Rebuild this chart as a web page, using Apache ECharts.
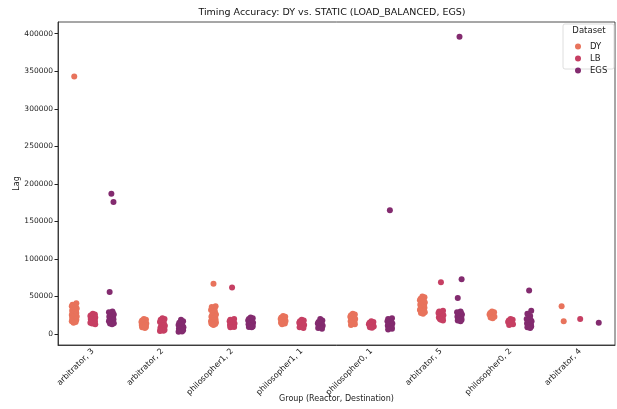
<!DOCTYPE html>
<html>
<head>
<meta charset="utf-8">
<script src="https://cdn.jsdelivr.net/npm/echarts@6/dist/echarts.min.js"></script>
<style>
  html, body { margin: 0; padding: 0; background: #fff; }
  #main { width: 617px; height: 409px; }
</style>
</head>
<body>
<div id="main"></div>
<script>
// categories on the x axis
var categories = ["arbitrator, 3", "arbitrator, 2", "philosopher1, 2", "philosopher1, 1",
  "philosopher0, 1", "arbitrator, 5", "philosopher0, 2", "arbitrator, 4"];
var hues = ["DY", "LB", "EGS"];
var yTicks = [0, 50000, 100000, 150000, 200000, 250000, 300000, 350000, 400000];

// Lag values per category (same order as categories)
var DY = [
  [343000, 41000, 39000, 38500, 37000, 36000, 35000, 34000, 33000, 32000, 31000, 30000, 29000, 28500, 28000, 27000, 26000, 25500, 25000, 24000, 23500, 23000, 22000, 21500, 21000, 20000, 19500, 19000, 18000, 17500, 17000, 16000, 15000],
  [20000, 19000, 18000, 17000, 16000, 15500, 15000, 14000, 13500, 13000, 12000, 11500, 11000, 10000, 9500, 9000, 8000],
  [67000, 37000, 36000, 34000, 32000, 30000, 28000, 26000, 25000, 24000, 23000, 22000, 21000, 20000, 19000, 18500, 18000, 17000, 16500, 16000, 15500, 15000, 14500, 14000, 13500, 13000, 12000],
  [24000, 23000, 22000, 21000, 20000, 19000, 18000, 17500, 17000, 16000, 15000, 14000, 13000],
  [27000, 26000, 25000, 24000, 23000, 22000, 21000, 20000, 19000, 18000, 17000, 16000, 15000, 14000, 13000, 12000],
  [50000, 49000, 47000, 46000, 45000, 44000, 43000, 42000, 41000, 40000, 39000, 38000, 37000, 36000, 35000, 34000, 33000, 32000, 31000, 30000, 29000, 28000, 27000],
  [30000, 29000, 28000, 27000, 26000, 25000, 24000, 23000, 22000, 21000],
  [37000, 17000]
];
var LB = [
  [27000, 26000, 25000, 24500, 24000, 23000, 22500, 22000, 21000, 20500, 20000, 19000, 18500, 18000, 17000, 16500, 16000, 15000, 14500, 14000, 13000],
  [21000, 20000, 19000, 17000, 16000, 14000, 12000, 11000, 10000, 9000, 8000, 7000, 6500, 6000, 5500, 5000, 4500, 4000],
  [62000, 20000, 19000, 18000, 17000, 16000, 15000, 14000, 13500, 13000, 12000, 11500, 11000, 10000, 9500, 9000],
  [19000, 18000, 17000, 16000, 15000, 14000, 13000, 12000, 11000, 10000, 9000, 8000],
  [17000, 16000, 15000, 14000, 13000, 12000, 11000, 10000, 9000, 8500],
  [69000, 31000, 30000, 29000, 28000, 27000, 26000, 25000, 24000, 23000, 22000, 21000, 20000, 19000, 18000],
  [20000, 19000, 18000, 17000, 16000, 15000, 14000, 13000, 12000],
  [20000]
];
var EGS = [
  [187000, 176000, 56000, 30000, 29000, 28000, 27000, 26000, 25000, 24000, 23000, 22000, 21000, 20000, 19500, 19000, 18000, 17000, 16000, 15000, 14500, 14000, 13000],
  [19000, 17000, 15000, 13000, 12000, 11000, 10000, 9000, 8500, 8000, 7000, 6500, 6000, 5500, 5000, 4000, 3500, 3000],
  [22000, 21000, 20000, 19000, 18000, 17000, 16000, 15000, 14500, 14000, 13000, 12000, 11500, 11000, 10000, 9500, 9000],
  [20000, 18000, 16000, 15000, 14000, 13000, 12000, 11000, 10000, 9000, 8000, 7000],
  [165000, 21000, 20000, 18000, 17000, 16000, 15000, 14000, 13000, 12000, 11000, 10000, 9000, 8000, 7000, 6000],
  [396000, 73000, 48000, 30000, 29000, 28000, 27000, 26000, 25000, 24000, 23000, 22000, 21000, 20000, 19000, 18000, 17000],
  [58000, 31000, 27000, 24000, 20000, 19000, 18000, 17000, 16000, 15000, 14000, 13000, 12000, 11000, 10000, 9000, 8000],
  [15000]
];

var colors = ["#e8735c", "#c63f63", "#832b6f"];
// dodge offsets per hue and a fixed jitter pattern (category units)
var dodge = [-0.2667, 0, 0.2667];
var jitter = [0, 0.03, -0.025, 0.015, -0.035, 0.02, -0.01, 0.035, -0.02, 0.01, -0.03, 0.025, -0.015];

function buildPoints(groups, h) {
  var pts = [];
  for (var i = 0; i < groups.length; i++) {
    for (var j = 0; j < groups[i].length; j++) {
      pts.push([i + dodge[h] + jitter[j % jitter.length], groups[i][j]]);
    }
  }
  return pts;
}

var allData = [DY, LB, EGS];
var series = hues.map(function (name, h) {
  return {
    name: name,
    type: "scatter",
    xAxisIndex: 1,
    yAxisIndex: 0,
    symbolSize: 6,
    itemStyle: { color: colors[h], opacity: 1 },
    data: buildPoints(allData[h], h)
  };
});

var myChart = echarts.init(document.getElementById("main"));
myChart.setOption({
  animation: false,
  textStyle: { fontFamily: "DejaVu Sans" },
  grid: {
    left: 58, right: 2, top: 22, bottom: 64, outerBoundsMode: "none",
    show: true, borderColor: "#222", borderWidth: 0.8
  },
  graphic: [
    {
      type: "text", x: 332, y: 8,
      style: { text: "Timing Accuracy: DY vs. STATIC (LOAD_BALANCED, EGS)", fontSize: 9.5, fill: "#111", fontFamily: "DejaVu Sans", align: "center" }
    },
    {
      type: "rect", shape: { x: 563, y: 24, width: 51, height: 45, r: 2 },
      style: { fill: "#fff", stroke: "#d5d5d5", lineWidth: 0.8 }, z: 10
    },
    {
      type: "text", x: 589, y: 26, z: 11,
      style: { text: "Dataset", fontSize: 8.5, fill: "#222", fontFamily: "DejaVu Sans", align: "center" }
    }
  ],
  legend: {
    data: hues, orient: "vertical", left: 570, top: 37, itemGap: 3,
    icon: "circle", itemWidth: 6, itemHeight: 6, z: 12,
    textStyle: { fontSize: 8.5, color: "#222", padding: [0, 0, 0, 4] }
  },
  xAxis: [
    {
      type: "category", data: categories, boundaryGap: true,
      name: "Group (Reactor, Destination)", nameLocation: "middle", nameGap: 50,
      nameMoveOverlap: false,
      nameTextStyle: { fontSize: 8, color: "#222" },
      axisLine: { onZero: false, lineStyle: { color: "#222", width: 0.8 } },
      axisTick: { alignWithLabel: true, length: 3.5, lineStyle: { color: "#222" } },
      axisLabel: { rotate: 45, fontSize: 8, color: "#222", margin: 5, interval: 0 },
      splitLine: { show: false }
    },
    {
      type: "value", min: -0.5, max: 7.5, show: false,
      splitLine: { show: false }
    }
  ],
  yAxis: {
    type: "value", min: -14550, max: 415550,
    name: "Lag", nameLocation: "middle", nameGap: 37,
    nameMoveOverlap: false,
    nameTextStyle: { fontSize: 8, color: "#222" },
    axisLine: { show: true, onZero: false, lineStyle: { color: "#222", width: 0.8 } },
    axisTick: { show: true, length: 3.5, customValues: yTicks, lineStyle: { color: "#222" } },
    axisLabel: {
      fontSize: 7.5, color: "#222", margin: 5, customValues: yTicks,
      formatter: function (v) { return String(v); }
    },
    splitLine: { show: false }
  },
  series: series
});
</script>
</body>
</html>
